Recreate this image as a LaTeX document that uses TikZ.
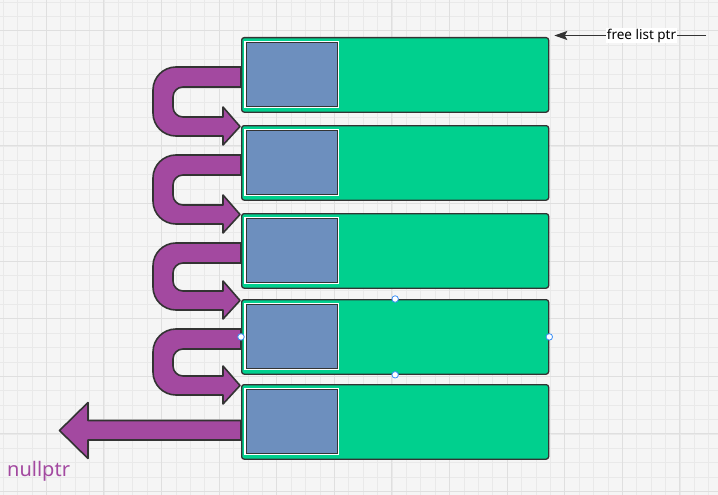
\documentclass[tikz,border=0pt]{standalone}
\usepackage{fontspec}
\setmainfont{Noto Sans}
\usetikzlibrary{calc,arrows.meta}
\definecolor{gridbg}{HTML}{F5F5F5}
\definecolor{gridlo}{HTML}{E9E9E9}
\definecolor{gridhi}{HTML}{DFDFDF}
\definecolor{edge}{HTML}{333333}
\definecolor{cellgreen}{HTML}{00D08E}
\definecolor{slotblue}{HTML}{6D8FBE}
\definecolor{linkpurple}{HTML}{A349A0}
\definecolor{handleblue}{HTML}{3B8EF5}
\pgfdeclarelayer{grid}
\pgfdeclarelayer{under}
\pgfsetlayers{grid,under,main}
\begin{document}
\begin{tikzpicture}[x=1pt,y=-1pt,
  cell/.style={draw=edge,fill=cellgreen,line width=1.3pt,rounded corners=2.5pt,
    minimum width=307pt,minimum height=74.5pt,inner sep=0pt,anchor=north west},
  slot/.style={draw=edge,fill=slotblue,line width=1.3pt,minimum width=91pt,
    minimum height=64pt,inner sep=0pt,anchor=north west,
    preaction={draw=white,line width=3.4pt}},
  link/.style={draw=edge,fill=linkpurple,line width=1.6pt,line join=round},
  handle/.style={circle,draw=handleblue,fill=white,line width=0.8pt,
    inner sep=0pt,minimum size=6.5pt}]
\useasboundingbox (0,0) rectangle (718,495);
% grid paper
\begin{pgfonlayer}{grid}
\fill[gridbg] (0,0) rectangle (718,495);
\foreach \i in {0,...,49} \draw[gridlo,line width=0.7pt] ({3.1+14.4*\i},0) -- ++(0,495);
\foreach \j in {0,...,34} \draw[gridlo,line width=0.7pt] (0,{1.9+14.4*\j}) -- ++(718,0);
\foreach \i in {0,...,11} \draw[gridhi,line width=0.9pt] ({46.3+57.6*\i},0) -- ++(0,495);
\foreach \j in {0,...,8} \draw[gridhi,line width=0.9pt] (0,{30.7+57.6*\j}) -- ++(718,0);
\end{pgfonlayer}
% free list blocks
\foreach \i/\top in {1/37,2/125,3/213,4/299,5/384} {
  \node[cell] (b\i) at (241,\top) {};
  \node[slot] (c\i) at ($(b\i.north west)+(4.5,5)$) {};
}
% next links
\begin{pgfonlayer}{under}
\foreach \i/\j in {1/2,2/3,3/4,4/5}
  \draw[link] ($(b\i.north west)+(0,30)$) -- ++(-65,0)
    arc[start angle=270,end angle=180,radius=23]
    -- ($(b\j.north west)+(-88,-12)$)
    arc[start angle=180,end angle=90,radius=23]
    -- ++(47,0) -- ++(0,9) -- ++(17,-18.5) -- ++(-17,-19.5) -- ++(0,10)
    -- ++(-40,0)
    arc[start angle=90,end angle=180,radius=10]
    -- ($(b\i.north west)+(-68,60)$)
    arc[start angle=180,end angle=270,radius=10]
    -- ($(b\i.north west)+(0,50)$) -- cycle;
\draw[link] ($(b5.north west)+(0,36.5)$) -- ++(-153,0) -- ++(0,-18)
  -- ++(-28.5,28) -- ++(28.5,28) -- ++(0,-18.5) -- ++(153,0) -- cycle;
\end{pgfonlayer}
\node[anchor=base west,text=linkpurple,font=\fontsize{20}{24}\selectfont,inner sep=0pt] (null) at (7,476) {nullptr};
% head pointer
\coordinate (ptrstart) at (706,35.5);
\coordinate (ptrtip) at ($(b1.north east)+(5,-1.5)$);
\draw[edge,line width=1.4pt,-{Stealth[length=13pt,width=9pt,inset=2.5pt]}] (ptrstart) -- (ptrtip)
  node[pos=0.425,fill=white,inner sep=1.2pt,text=black,font=\fontsize{13.5}{15}\selectfont] (head) {free list ptr};
% selection handles
\foreach \a in {north,south,west,east} \node[handle] at (b4.\a) {};
\end{tikzpicture}
\end{document}
